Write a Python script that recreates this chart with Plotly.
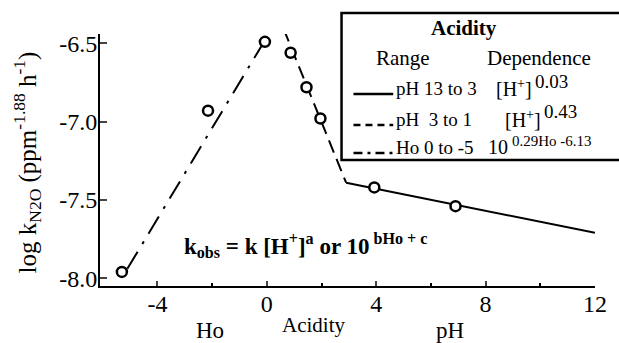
import plotly.graph_objects as go

# Data points (acidity scale: Ho for negative, pH for positive)
acidity_pts = [-5.3, -2.15, -0.07, 0.87, 1.45, 1.96, 3.93, 6.9]
logk_pts = [-7.96, -6.93, -6.49, -6.56, -6.78, -6.98, -7.42, -7.54]

# Fitted segments
solid_x = [2.9, 12.0]
solid_y = [-7.39, -7.71]
dashed_x = [0.62, 2.9]
dashed_y = [-6.41, -7.39]
dashdot_x = [-5.1, 0.0]
dashdot_y = [-7.94, -6.46]

x_tickvals = [-4, 0, 4, 8, 12]
x_ticktext = ["-4", "0", "4", "8", "12"]
y_tickvals = [-8.0, -7.5, -7.0, -6.5]
y_ticktext = ["-8.0", "-7.5", "-7.0", "-6.5"]

legend_ranges = ["pH 13 to 3", "pH  3 to 1", "Ho 0 to -5"]
legend_bases = ["[H<sup>+</sup>]", "[H<sup>+</sup>]", "10"]
legend_exponents = ["0.03", "0.43", "0.29Ho -6.13"]

FONT = "Liberation Serif"

fig = go.Figure()
fig.add_trace(go.Scatter(x=solid_x, y=solid_y, mode="lines",
                         line=dict(color="black", width=2), cliponaxis=False, showlegend=False))
fig.add_trace(go.Scatter(x=dashed_x, y=dashed_y, mode="lines",
                         line=dict(color="black", width=2, dash="13px,7px"), cliponaxis=False, showlegend=False))
fig.add_trace(go.Scatter(x=dashdot_x, y=dashdot_y, mode="lines",
                         line=dict(color="black", width=2, dash="20px,9px,3px,9px"), cliponaxis=False, showlegend=False))
fig.add_trace(go.Scatter(x=acidity_pts, y=logk_pts, mode="markers",
                         marker=dict(symbol="circle", size=10, color="white",
                                     line=dict(color="black", width=2.5)),
                         cliponaxis=False, showlegend=False))

fig.update_layout(
    width=619, height=343,
    margin=dict(l=100, r=21, t=34, b=57),
    paper_bgcolor="white", plot_bgcolor="white",
    font=dict(family=FONT, size=22, color="black"),
    showlegend=False,
)
fig.update_xaxes(range=[-6.1, 12], tickvals=x_tickvals, ticktext=x_ticktext, ticks="inside", ticklen=5, tickwidth=2,
                 showline=True, linewidth=2, linecolor="black", showgrid=False, zeroline=False,
                 minor=dict(tickvals=[-2, 2, 6, 10], ticks="inside", ticklen=3, tickwidth=2, tickcolor="black"),
                 tickfont=dict(family=FONT, size=24), ticklabelstandoff=-5)
fig.update_yaxes(range=[-8.05, -6.44], tickvals=y_tickvals, ticktext=y_ticktext, ticks="inside", ticklen=7,
                 tickwidth=2, showline=True, linewidth=2, linecolor="black", showgrid=False, zeroline=False,
                 tickfont=dict(family=FONT, size=24), ticklabelstandoff=-4)

def px2paper(px, py):
    return (px - 100) / 498.0, (286 - py) / 252.0

ann = []
def add_text(text, px, py, size=22, bold=False, xanchor="center", angle=0):
    x, y = px2paper(px, py)
    t = f"<b>{text}</b>" if bold else text
    ann.append(dict(text=t, x=x, y=y, xref="paper", yref="paper", xanchor=xanchor, yanchor="middle",
                    showarrow=False, textangle=angle, borderpad=0,
                    font=dict(family=FONT, size=size, color="black")))

# Axis titles
add_text("log k<sub>N2O</sub> (ppm<sup>-1.88</sup> h<sup>-1</sup>)", 27, 162, size=25, angle=-90)
add_text("Ho", 211, 330, size=23)
add_text("Acidity", 315, 325, size=21)
add_text("pH", 452, 330, size=23)

# Rate law
add_text("k<sub>obs</sub> = k [H<sup>+</sup>]<sup>a</sup> or 10<sup> bHo + c</sup>", 184, 245, size=23, bold=True, xanchor="left")

# Legend box
shapes = []
bx0, by0 = px2paper(343, 160)
bx1, by1 = px2paper(625, 13)
shapes.append(dict(type="rect", xref="paper", yref="paper", x0=bx0, y0=by0, x1=bx1, y1=by1,
                   line=dict(color="black", width=2.5), fillcolor="white", layer="above"))
add_text("Acidity", 466, 28, size=21, bold=True)
add_text("Range", 405, 58, size=21)
add_text("Dependence", 542, 58, size=21)

row_y = [94, 125, 153]
row_dash = ["solid", "7px,5px", "9px,5px,3px,5px"]
base_x = [497, 506, 489]
exp_pos = [(537, 81, 19), (546, 111, 19), (513, 141, 15)]
for i in range(3):
    py = row_y[i]
    lx0, ly = px2paper(355, py)
    lx1, _ = px2paper(395, py)
    shapes.append(dict(type="line", xref="paper", yref="paper", x0=lx0, x1=lx1, y0=ly, y1=ly,
                       line=dict(color="black", width=2.5, dash=row_dash[i]), layer="above"))
    add_text(legend_ranges[i], 397, py - 6, size=19, xanchor="left")
    add_text(legend_bases[i], base_x[i], py - 6, size=20, xanchor="left")
    ex, ey, es = exp_pos[i]
    add_text(legend_exponents[i], ex, ey, size=es, xanchor="left")

fig.update_layout(annotations=ann, shapes=shapes)
fig.write_html("out.html", config={"displayModeBar": False},
               post_script="document.body.style.margin='0px';")
